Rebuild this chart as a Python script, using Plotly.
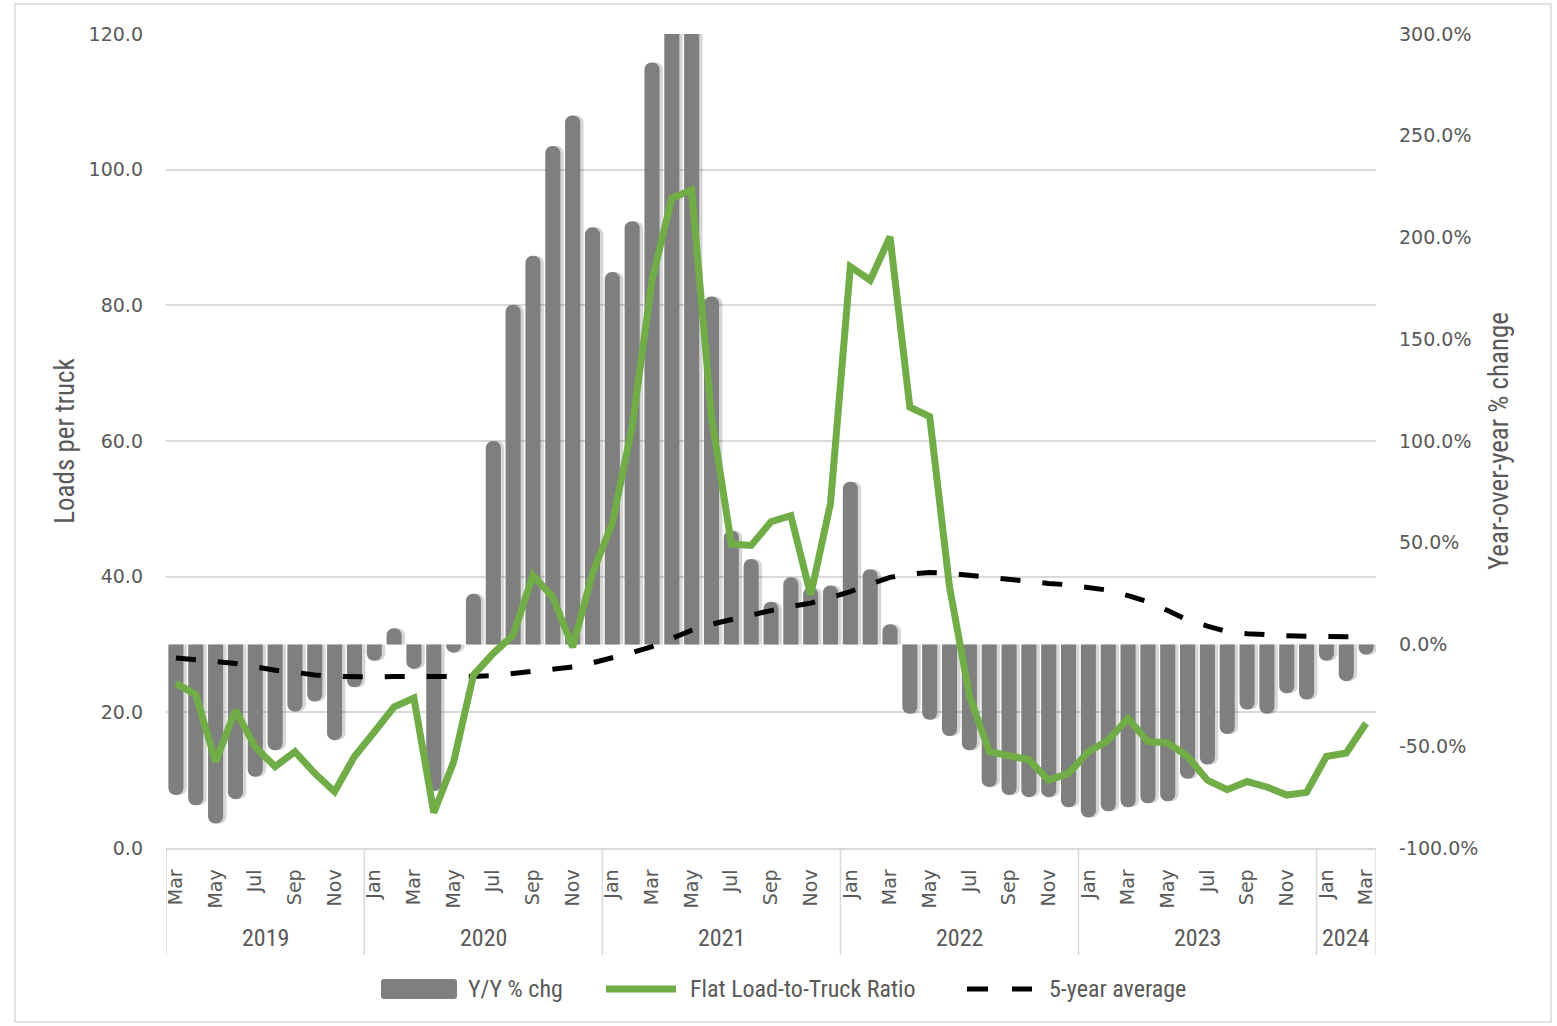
import plotly.graph_objects as go

# Monthly series, Mar 2019 - Mar 2024
months = [
    "Mar", "Apr", "May", "Jun", "Jul", "Aug", "Sep", "Oct", "Nov", "Dec",
    "Jan", "Feb", "Mar", "Apr", "May", "Jun", "Jul", "Aug", "Sep", "Oct", "Nov", "Dec",
    "Jan", "Feb", "Mar", "Apr", "May", "Jun", "Jul", "Aug", "Sep", "Oct", "Nov", "Dec",
    "Jan", "Feb", "Mar", "Apr", "May", "Jun", "Jul", "Aug", "Sep", "Oct", "Nov", "Dec",
    "Jan", "Feb", "Mar", "Apr", "May", "Jun", "Jul", "Aug", "Sep", "Oct", "Nov", "Dec",
    "Jan", "Feb", "Mar",
]
years = ["2019", "2020", "2021", "2022", "2023", "2024"]
months_per_year = [10, 12, 12, 12, 12, 3]

# Y/Y % change (right axis, percent)
yoy_pct = [
    -74, -79, -88, -76, -65, -52, -33, -28, -47, -21,
    -8, 8, -12, -72, -4, 25, 100, 167, 191, 245, 260, 205,
    183, 208, 286, 420, 390, 171, 56, 42, 21, 33, 28, 29,
    80, 37, 10, -34, -37, -45, -52, -70, -74, -75, -75, -80,
    -85, -82, -80, -78, -77, -66, -59, -44, -32, -34, -24, -27,
    -8, -18, -5,
]

# Flat load-to-truck ratio (left axis, loads per truck)
load_ratio = [
    24.3, 22.6, 12.7, 20.3, 14.9, 12.0, 14.2, 11.0, 8.3, 13.5,
    17.1, 20.8, 22.1, 5.2, 12.7, 25.5, 28.7, 31.4, 40.2, 37.0, 29.6, 40.5,
    47.9, 62.1, 83.7, 95.8, 97.0, 63.6, 44.8, 44.6, 48.1, 49.0, 37.3, 50.8,
    85.7, 83.7, 90.1, 65.0, 63.6, 38.5, 22.5, 14.2, 13.6, 13.0, 10.0, 11.0,
    14.2, 15.9, 19.1, 15.7, 15.5, 13.5, 10.0, 8.6, 9.8, 9.0, 7.8, 8.2,
    13.5, 14.0, 18.4,
]

# 5-year average of the load-to-truck ratio
avg_5yr = [
    28.0, 27.8, 27.5, 27.2, 26.7, 26.2, 25.9, 25.5, 25.3, 25.2,
    25.2, 25.3, 25.3, 25.2, 25.2, 25.3, 25.4, 25.7, 26.0, 26.3, 26.7, 27.3,
    28.0, 28.8, 29.7, 30.9, 32.1, 33.0, 33.7, 34.3, 35.0, 35.6, 36.1, 36.9,
    37.8, 38.9, 39.9, 40.4, 40.6, 40.5, 40.2, 39.9, 39.5, 39.2, 39.0, 38.8,
    38.4, 38.0, 37.2, 36.3, 35.0, 33.6, 32.7, 31.9, 31.6, 31.4, 31.3, 31.2,
    31.2, 31.1, 31.1,
]

# Axis tick labels
left_ticks = [0, 20, 40, 60, 80, 100, 120]
left_labels = ["0.0", "20.0", "40.0", "60.0", "80.0", "100.0", "120.0"]
right_ticks = [-100, -50, 0, 50, 100, 150, 200, 250, 300]
right_labels = ["-100.0%", "-50.0%", "0.0%", "50.0%", "100.0%",
                "150.0%", "200.0%", "250.0%", "300.0%"]

series_names = ["Y/Y % chg", "Flat Load-to-Truck Ratio", "5-year average"]

x = list(range(len(months)))

GREY_TXT = "#595959"
GRID = "#d9d9d9"
BAR = "#7f7f7f"
GREEN = "#70ad47"
NARROW = "Liberation Sans Narrow, Roboto Condensed, Liberation Sans, sans-serif"
WIDE = "DejaVu Sans, sans-serif"

# Plot area size in pixels (for paper-unit conversions)
PLOT_L, PLOT_T = 166.0, 34.0
PLOT_W, PLOT_H = 1210.0, 814.0


def px_x(p):
    return (p - PLOT_L) / PLOT_W


def px_y(p):
    return (PLOT_T + PLOT_H - p) / PLOT_H


BAR_W = 0.76

fig = go.Figure()

# soft drop shadow behind the bars
fig.add_trace(go.Bar(
    x=x, y=yoy_pct, yaxis="y", width=BAR_W, offset=-BAR_W / 2 + 0.17,
    marker=dict(color="rgba(0,0,0,0.16)", line=dict(width=0), cornerradius=7),
    showlegend=False, hoverinfo="skip",
))
fig.add_trace(go.Bar(
    x=x, y=yoy_pct, name=series_names[0], yaxis="y", width=BAR_W, offset=-BAR_W / 2,
    marker=dict(color=BAR, line=dict(width=0), cornerradius=7),
    showlegend=False,
))
fig.add_trace(go.Scatter(
    x=x, y=avg_5yr, name=series_names[2], yaxis="y2", mode="lines",
    line=dict(color="black", width=5, dash="20px,22px"),
    showlegend=False,
))
fig.add_trace(go.Scatter(
    x=x, y=load_ratio, name=series_names[1], yaxis="y2", mode="lines",
    line=dict(color=GREEN, width=7),
    showlegend=False,
))

shapes = []
annotations = []

# Year group labels and separators below the month ticks
start = 0
bounds = [-0.5]
for yr, n in zip(years, months_per_year):
    mid = start + (n - 1) / 2.0
    annotations.append(dict(
        x=mid, y=px_y(938), xref="x", yref="paper", text=yr,
        showarrow=False, yanchor="middle", xanchor="center",
        font=dict(family=NARROW, size=24, color=GREY_TXT),
    ))
    start += n
    bounds.append(start - 0.5)
for b in bounds:
    shapes.append(dict(
        type="line", xref="x", yref="paper", x0=b, x1=b, y0=0, y1=px_y(955),
        line=dict(color=GRID, width=1.5),
    ))

# Legend row under the chart
LEG_Y = 989
leg_font = dict(family=NARROW, size=24, color=GREY_TXT)
r = 3
x0, x1, y0, y1 = 381, 457, 979, 999
rounded = (
    f"M {px_x(x0 + r)} {px_y(y0)} L {px_x(x1 - r)} {px_y(y0)} "
    f"Q {px_x(x1)} {px_y(y0)} {px_x(x1)} {px_y(y0 + r)} "
    f"L {px_x(x1)} {px_y(y1 - r)} Q {px_x(x1)} {px_y(y1)} {px_x(x1 - r)} {px_y(y1)} "
    f"L {px_x(x0 + r)} {px_y(y1)} Q {px_x(x0)} {px_y(y1)} {px_x(x0)} {px_y(y1 - r)} "
    f"L {px_x(x0)} {px_y(y0 + r)} Q {px_x(x0)} {px_y(y0)} {px_x(x0 + r)} {px_y(y0)} Z"
)
shapes.append(dict(type="path", xref="paper", yref="paper", path=rounded,
                   fillcolor=BAR, line=dict(width=0)))
shapes.append(dict(type="line", xref="paper", yref="paper",
                   x0=px_x(606), x1=px_x(676), y0=px_y(LEG_Y), y1=px_y(LEG_Y),
                   line=dict(color=GREEN, width=7)))
for a, b in [(967, 988), (1012, 1032)]:
    shapes.append(dict(type="line", xref="paper", yref="paper",
                       x0=px_x(a), x1=px_x(b), y0=px_y(LEG_Y), y1=px_y(LEG_Y),
                       line=dict(color="black", width=5)))
for name, lx in zip(series_names, [466, 688, 1047]):
    annotations.append(dict(
        x=px_x(lx), y=px_y(LEG_Y), xref="paper", yref="paper", text=name,
        showarrow=False, xanchor="left", yanchor="middle", font=leg_font,
    ))

# Outer chart frame
shapes.append(dict(
    type="rect", xref="paper", yref="paper",
    x0=px_x(15), x1=px_x(1551), y0=px_y(1022), y1=px_y(4),
    line=dict(color=GRID, width=1.5), fillcolor="rgba(0,0,0,0)", layer="below",
))

fig.update_layout(
    width=1557, height=1026,
    margin=dict(l=166, r=181, t=34, b=178, autoexpand=False),
    paper_bgcolor="white", plot_bgcolor="white",
    barmode="overlay",
    showlegend=False,
    xaxis=dict(
        range=[-0.5, 60.5], tickmode="array", tickvals=x[::2], ticktext=months[::2],
        tickangle=-90, showgrid=False, zeroline=False, showline=True, linecolor=GRID,
        linewidth=1.5, ticks="", ticklabelstandoff=12, automargin=False,
        tickfont=dict(family=WIDE, size=19, color=GREY_TXT),
    ),
    yaxis=dict(
        side="right", range=[-100, 300], tickmode="array",
        tickvals=right_ticks, ticktext=right_labels,
        showgrid=False, zeroline=False, showline=False,
        ticks="", ticklabelstandoff=22, automargin=False,
        tickfont=dict(family=WIDE, size=19, color=GREY_TXT),
        title=dict(text="Year-over-year % change", standoff=11,
                   font=dict(family=NARROW, size=27, color=GREY_TXT)),
    ),
    yaxis2=dict(
        overlaying="y", side="left", range=[0, 120], tickmode="array",
        tickvals=left_ticks, ticktext=left_labels,
        showgrid=True, gridcolor=GRID, gridwidth=1.5, zeroline=False,
        showline=False, ticks="", ticklabelstandoff=22, automargin=False,
        tickfont=dict(family=WIDE, size=19, color=GREY_TXT),
        title=dict(text="Loads per truck", standoff=6,
                   font=dict(family=NARROW, size=27, color=GREY_TXT)),
    ),
    shapes=shapes,
    annotations=annotations,
)

fig.write_html("out.html")
